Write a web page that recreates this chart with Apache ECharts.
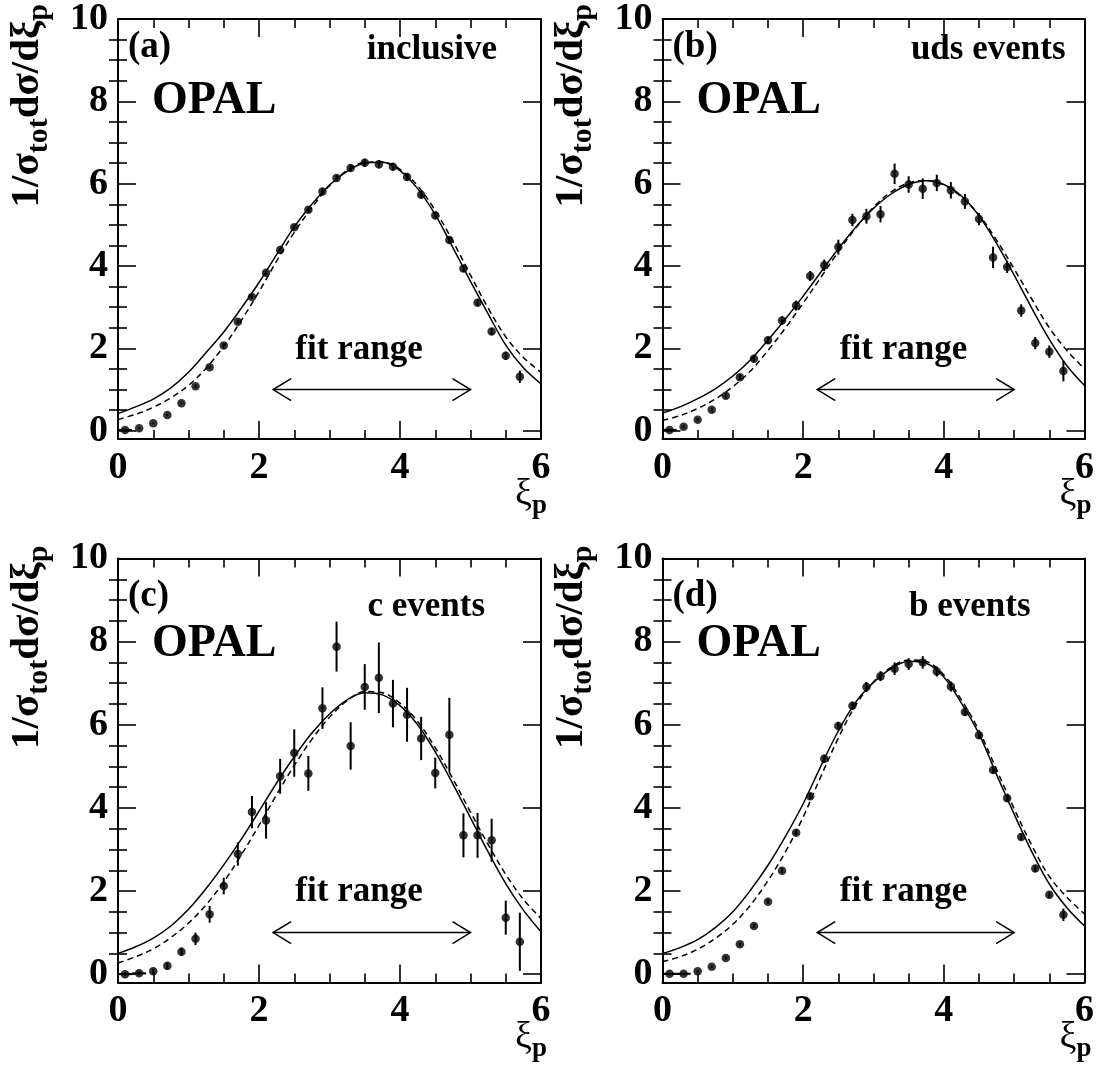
<!DOCTYPE html>
<html>
<head>
<meta charset="utf-8">
<script src="https://cdn.jsdelivr.net/npm/echarts@6/dist/echarts.min.js"></script>
<style>
html,body{margin:0;padding:0;background:#fff;}
#c{width:1097px;height:1072px;}
</style>
</head>
<body>
<div id="c"></div>
<script>
// ---- data ----
const xi = [0.1,0.3,0.5,0.7,0.9,1.1,1.3,1.5,1.7,1.9,2.1,2.3,2.5,2.7,2.9,3.1,3.3,3.5,3.7,3.9,4.1,4.3,4.5,4.7,4.9,5.1,5.3,5.5,5.7];

const incY   = [0.02,0.06,0.18,0.38,0.67,1.08,1.54,2.07,2.65,3.25,3.84,4.39,4.94,5.37,5.81,6.14,6.38,6.51,6.47,6.41,6.16,5.73,5.23,4.63,3.94,3.11,2.41,1.82,1.31];
const incErr = [0.02,0.02,0.02,0.03,0.03,0.04,0.04,0.05,0.05,0.05,0.05,0.06,0.06,0.06,0.07,0.07,0.08,0.1,0.1,0.09,0.09,0.08,0.08,0.08,0.08,0.08,0.08,0.1,0.15];
const incXErr = [0.1,0,0,0,0,0,0,0,0,0,0,0,0,0,0,0,0,0,0,0,0,0,0,0,0,0,0,0,0];

const udsY   = [0.02,0.10,0.27,0.51,0.85,1.30,1.75,2.20,2.68,3.04,3.76,4.02,4.46,5.12,5.21,5.26,6.24,5.98,5.88,6.02,5.84,5.57,5.14,4.21,3.98,2.92,2.13,1.92,1.45];
const udsErr = [0.03,0.03,0.04,0.05,0.07,0.07,0.08,0.09,0.1,0.12,0.12,0.14,0.18,0.15,0.18,0.2,0.25,0.2,0.25,0.2,0.2,0.18,0.15,0.26,0.15,0.15,0.15,0.15,0.25];
const udsXErr = [0.1,0,0,0,0,0,0,0,0,0,0,0,0,0,0,0,0,0,0,0,0,0,0,0,0,0,0,0,0];

const cY   = [0.0,0.02,0.07,0.2,0.54,0.85,1.44,2.12,2.89,3.9,3.7,4.76,5.32,4.83,6.4,7.88,5.49,6.91,7.13,6.51,6.24,5.67,4.84,5.76,3.34,3.34,3.22,1.36,0.78];
const cErr = [0.05,0.05,0.06,0.08,0.1,0.15,0.2,0.2,0.28,0.39,0.44,0.42,0.57,0.42,0.5,0.6,0.57,0.55,0.85,0.57,0.65,0.52,0.37,0.89,0.53,0.54,0.52,0.41,0.7];
const cXErr = [0.1,0.1,0,0,0,0,0,0,0,0,0,0,0,0,0,0,0,0,0,0,0,0,0,0,0,0,0,0,0];

const bY   = [0.01,0.01,0.07,0.18,0.39,0.72,1.16,1.74,2.49,3.40,4.28,5.18,5.97,6.46,6.91,7.17,7.35,7.46,7.5,7.28,6.92,6.31,5.75,4.91,4.23,3.3,2.54,1.91,1.43];
const bErr = [0.02,0.02,0.03,0.03,0.04,0.04,0.05,0.05,0.06,0.06,0.08,0.1,0.1,0.1,0.12,0.12,0.15,0.14,0.15,0.12,0.12,0.1,0.08,0.08,0.08,0.08,0.08,0.08,0.15];
const bXErr = [0.1,0.1,0,0,0,0,0,0,0,0,0,0,0,0,0,0,0,0,0,0,0,0,0,0,0,0,0,0,0];

const curveX = [0,0.25,0.5,0.75,1,1.25,1.5,1.75,2,2.25,2.5,2.75,3,3.25,3.5,3.75,4,4.25,4.5,4.75,5,5.25,5.5,5.75,6];
const incSolid  = [0.42,0.58,0.77,1.04,1.42,1.9,2.4,2.98,3.6,4.28,4.95,5.5,5.97,6.3,6.5,6.52,6.32,5.88,5.25,4.45,3.63,2.84,2.08,1.53,1.14];
const incDashed = [0.27,0.4,0.57,0.8,1.1,1.52,2.05,2.68,3.38,4.12,4.82,5.42,5.95,6.32,6.52,6.53,6.35,5.95,5.35,4.6,3.78,2.98,2.28,1.78,1.42];
const udsSolid  = [0.43,0.58,0.78,1.02,1.33,1.72,2.2,2.72,3.27,3.85,4.42,4.95,5.4,5.75,5.98,6.07,5.98,5.7,5.22,4.55,3.78,2.98,2.22,1.58,1.1];
const udsDashed = [0.25,0.37,0.54,0.77,1.07,1.45,1.95,2.5,3.1,3.72,4.35,4.93,5.43,5.8,6.02,6.08,5.97,5.68,5.24,4.63,3.93,3.2,2.5,1.95,1.5];
const cSolid    = [0.5,0.66,0.87,1.16,1.56,2.06,2.63,3.25,3.92,4.6,5.23,5.8,6.26,6.6,6.77,6.72,6.46,6.0,5.35,4.58,3.76,2.94,2.18,1.54,1.02];
const cDashed   = [0.27,0.42,0.61,0.88,1.23,1.67,2.22,2.87,3.58,4.32,5.02,5.65,6.18,6.58,6.8,6.77,6.52,6.08,5.45,4.7,3.9,3.12,2.4,1.8,1.34];
const bSolid    = [0.5,0.64,0.83,1.12,1.5,2.02,2.62,3.32,4.1,5.0,5.85,6.55,7.02,7.35,7.53,7.48,7.15,6.52,5.78,4.8,3.85,2.95,2.17,1.6,1.16];
const bDashed   = [0.3,0.42,0.6,0.86,1.2,1.66,2.25,2.95,3.78,4.75,5.68,6.48,7.03,7.38,7.56,7.52,7.2,6.6,5.86,4.92,3.98,3.1,2.35,1.85,1.45];

const fitRange = [2.2, 5.0];
const fitArrowY = 1.0;

const xTicks = [0,2,4,6];
const yMajor = [0,2,4,6,8,10];
const yMinor = [0.5,1,1.5,2.5,3,3.5,4.5,5,5.5,6.5,7,7.5,8.5,9,9.5];

const tags  = ['(a)','(b)','(c)','(d)'];
const names = ['inclusive','uds events','c events','b events'];

// ---- layout ----
const FONT = "'Liberation Serif','Times New Roman',serif";
const G = [
  {l:118,   t:17,    w:423, h:422},
  {l:662.5, t:17,    w:423, h:422},
  {l:118,   t:558.5, w:423, h:424},
  {l:662.5, t:558.5, w:423, h:424}
];
const panels = [
  {Y:incY, E:incErr, XE:incXErr, S:incSolid, D:incDashed, nameDx:-44, tagDy:30, nameDy:33, opalDy:84},
  {Y:udsY, E:udsErr, XE:udsXErr, S:udsSolid, D:udsDashed, nameDx:-20, tagDy:30, nameDy:33, opalDy:84},
  {Y:cY,   E:cErr,   XE:cXErr,   S:cSolid,   D:cDashed,   nameDx:-56, tagDy:38, nameDy:48, opalDy:86},
  {Y:bY,   E:bErr,   XE:bXErr,   S:bSolid,   D:bDashed,   nameDx:-55, tagDy:38, nameDy:48, opalDy:86}
];

const grid = [], xAxis = [], yAxis = [], series = [], graphic = [];
const black = '#000';
const labelStyle = {color:black, fontSize:38, fontWeight:'bold', fontFamily:FONT};

G.forEach((g, i) => {
  grid.push({left:g.l, top:g.t, width:g.w, height:g.h, containLabel:false});
  const xBase = {
    type:'value', gridIndex:i, min:0, max:6, interval:2,
    axisLine:{show:true, onZero:false, lineStyle:{color:black, width:2}},
    axisTick:{show:true, inside:true, length:18, lineStyle:{color:black, width:1.6}},
    minorTick:{show:true, splitNumber:4, length:9, lineStyle:{color:black, width:1.6}},
    splitLine:{show:false}
  };
  xAxis.push(Object.assign({}, xBase, {position:'bottom',
    axisLabel:Object.assign({show:true, margin:10, customValues:xTicks}, labelStyle)}));
  xAxis.push(Object.assign({}, xBase, {position:'top', axisLabel:{show:false}}));

  const yBase = {type:'value', gridIndex:i, min:-0.2, max:10, splitLine:{show:false}};
  yAxis.push(Object.assign({}, yBase, {position:'left',
    axisLine:{show:true, onZero:false, lineStyle:{color:black, width:2}},
    axisTick:{show:true, inside:true, length:18, customValues:yMajor, lineStyle:{color:black, width:1.6}},
    axisLabel:Object.assign({show:true, margin:10, customValues:yMajor}, labelStyle)}));
  yAxis.push(Object.assign({}, yBase, {position:'left',
    axisLine:{show:false},
    axisTick:{show:true, inside:true, length:9, customValues:yMinor, lineStyle:{color:black, width:1.6}},
    axisLabel:{show:false}}));
  yAxis.push(Object.assign({}, yBase, {position:'right',
    axisLine:{show:true, onZero:false, lineStyle:{color:black, width:2}},
    axisTick:{show:true, inside:true, length:18, customValues:yMajor, lineStyle:{color:black, width:1.6}},
    axisLabel:{show:false}}));
  yAxis.push(Object.assign({}, yBase, {position:'right',
    axisLine:{show:false},
    axisTick:{show:true, inside:true, length:9, customValues:yMinor, lineStyle:{color:black, width:1.6}},
    axisLabel:{show:false}}));

  const p = panels[i];
  const xa = 2*i, ya = 4*i;

  series.push({type:'line', xAxisIndex:xa, yAxisIndex:ya, smooth:0.35, showSymbol:false, silent:true,
    data:curveX.map((x,k)=>[x,p.S[k]]), lineStyle:{color:black, width:1.5}, z:3});
  series.push({type:'line', xAxisIndex:xa, yAxisIndex:ya, smooth:0.35, showSymbol:false, silent:true,
    data:curveX.map((x,k)=>[x,p.D[k]]), lineStyle:{color:black, width:1.5, type:[6,4]}, z:3});

  series.push({type:'custom', xAxisIndex:xa, yAxisIndex:ya, silent:true, z:4,
    data:xi.map((x,k)=>[x,p.Y[k],p.E[k],p.XE[k]]),
    encode:{x:0, y:1},
    renderItem:(params, api) => {
      const x = api.value(0), y = api.value(1), e = api.value(2), xe = api.value(3);
      const ch = [];
      if (e > 0) {
        const a = api.coord([x, y-e]), b = api.coord([x, y+e]);
        ch.push({type:'line', shape:{x1:a[0],y1:a[1],x2:b[0],y2:b[1]}, style:{stroke:black, lineWidth:2}});
      }
      if (xe > 0) {
        const a = api.coord([x-xe, y]), b = api.coord([x+xe, y]);
        ch.push({type:'line', shape:{x1:a[0],y1:a[1],x2:b[0],y2:b[1]}, style:{stroke:black, lineWidth:2}});
      }
      return {type:'group', children:ch};
    }});

  series.push({type:'scatter', xAxisIndex:xa, yAxisIndex:ya, symbol:'circle', symbolSize:8.5, silent:true, z:5,
    itemStyle:{color:black}, data:xi.map((x,k)=>[x,p.Y[k]])});

  series.push({type:'custom', xAxisIndex:xa, yAxisIndex:ya, silent:true, z:4,
    data:[[fitRange[0], fitArrowY, fitRange[1]]],
    encode:{x:0, y:1},
    renderItem:(params, api) => {
      const a = api.coord([api.value(0), api.value(1)]);
      const b = api.coord([api.value(2), api.value(1)]);
      const st = {stroke:black, lineWidth:1.5, fill:null};
      return {type:'group', children:[
        {type:'line', shape:{x1:a[0],y1:a[1],x2:b[0],y2:b[1]}, style:st},
        {type:'polyline', shape:{points:[[a[0]+18,a[1]-11],[a[0],a[1]],[a[0]+18,a[1]+11]]}, style:st},
        {type:'polyline', shape:{points:[[b[0]-18,b[1]-11],[b[0],b[1]],[b[0]-18,b[1]+11]]}, style:st}
      ]};
    }});

  // texts
  const tx = (x, y, text, size, align) => graphic.push({type:'text', x, y, silent:true,
    style:{text, fill:black, fontSize:size, fontWeight:'bold', fontFamily:FONT, align, verticalAlign:'middle'}});
  tx(g.l+10, g.t+p.tagDy, tags[i], 37, 'left');
  tx(g.l+g.w+p.nameDx, g.t+p.nameDy, names[i], 35, 'right');
  tx(g.l+34, g.t+p.opalDy, 'OPAL', 46, 'left');
  tx(g.l+241, g.t+333, 'fit range', 35, 'center');

  // y-axis title (rotated)
  graphic.push({type:'text', x:g.l-91, y:g.t-13, rotation:Math.PI/2, silent:true,
    style:{text:'{m|1/σ}{s|tot}{m|dσ/dξ}{s|p}', align:'right', verticalAlign:'middle', fill:black,
      rich:{
        m:{fontSize:41, fontWeight:'bold', fontFamily:FONT, fill:black},
        s:{fontSize:30, fontWeight:'bold', fontFamily:FONT, fill:black, padding:[24,0,0,0]}
      }}});
  // x-axis title
  graphic.push({type:'text', x:g.l+g.w+6, y:g.t+g.h+56, silent:true,
    style:{text:'{m|ξ}{s|p}', align:'right', verticalAlign:'middle', fill:black,
      rich:{
        m:{fontSize:38, fontFamily:FONT, fill:black},
        s:{fontSize:27, fontWeight:'bold', fontFamily:FONT, fill:black, padding:[22,0,0,0]}
      }}});
});

const chart = echarts.init(document.getElementById('c'), null, {renderer:'canvas'});
chart.setOption({
  animation:false,
  backgroundColor:'#fff',
  grid, xAxis, yAxis, series, graphic
});
</script>
</body>
</html>
